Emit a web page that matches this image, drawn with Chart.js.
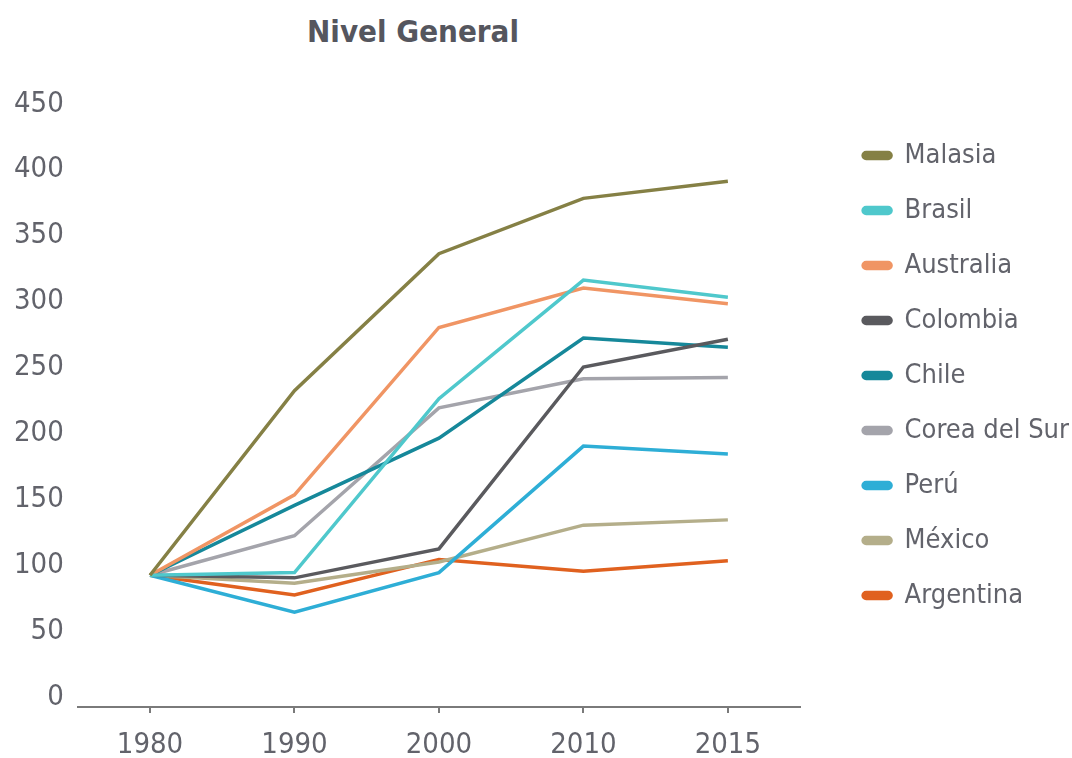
<!DOCTYPE html>
<html lang="es">
<head>
<meta charset="UTF-8">
<title>Nivel General</title>
<script src="https://cdn.jsdelivr.net/npm/chart.js"></script>
<style>
    * { margin: 0; padding: 0; box-sizing: border-box; }
    body { background: #fff; width: 1072px; height: 758px; overflow: hidden; }
    .wrap { position: relative; width: 1072px; height: 758px; }
    .title {
        position: absolute; top: 13px; left: 0; width: 826px;
        text-align: center;
        font-family: 'Liberation Sans Narrow', 'DejaVu Sans Condensed', 'Roboto', sans-serif;
        font-size: 31px; font-weight: bold; color: #55565e;
    }
    canvas { position: absolute; top: 0; left: 0; }
</style>
</head>
<body>
<div class="wrap">
    <div class="title">Nivel General</div>
    <canvas id="chart" width="1072" height="758"></canvas>
</div>
<script>
    const FONT = "'Liberation Sans Narrow', 'DejaVu Sans Condensed', Roboto, sans-serif";

    // Datos
    const years = ['1980', '1990', '2000', '2010', '2015'];
    const malasia   = [100, 240, 344, 386, 399];
    const brasil    = [100, 102, 234, 324, 311];
    const australia = [100, 161, 288, 318, 306];
    const colombia  = [100,  98, 120, 258, 279];
    const chile     = [100, 153, 204, 280, 273];
    const corea     = [100, 130, 227, 249, 250];
    const peru      = [100,  72, 102, 198, 192];
    const mexico    = [100,  94, 110, 138, 142];
    const argentina = [100,  85, 112, 103, 111];
    const yTicks = [0, 50, 100, 150, 200, 250, 300, 350, 400, 450];

    function serie(label, data, color) {
        return {
            label: label,
            data: data,
            borderColor: color,
            backgroundColor: color,
            borderWidth: 3.5,
            pointRadius: 0,
            tension: 0
        };
    }

    // espacio entre el eje x y la leyenda
    const GAP = 28, SHIFT = 35;
    const legendGap = {
        id: 'legendGap',
        afterInit(chart) {
            const legend = chart.legend;
            const fit = legend.fit;
            legend.fit = function () {
                fit.call(this);
                this.width += GAP;
            };
        },
        afterLayout(chart) {
            chart.legend.left += SHIFT;
        }
    };

    new Chart(document.getElementById('chart'), {
        type: 'line',
        data: {
            labels: years,
            datasets: [
                serie('Malasia', malasia, '#858045'),
                serie('Brasil', brasil, '#4fc8cc'),
                serie('Australia', australia, '#f09564'),
                serie('Colombia', colombia, '#5a5a5e'),
                serie('Chile', chile, '#16889a'),
                serie('Corea del Sur', corea, '#a4a4ab'),
                serie('Perú', peru, '#2eaed6'),
                serie('México', mexico, '#b4ae8a'),
                serie('Argentina', argentina, '#e0611f')
            ]
        },
        plugins: [legendGap],
        options: {
            responsive: false,
            animation: false,
            layout: { padding: { top: 114, left: 0, right: 0, bottom: -19 } },
            plugins: {
                title: { display: false },
                tooltip: { enabled: false },
                legend: {
                    position: 'right',
                    align: 'start',
                    labels: {
                        font: { family: FONT, size: 27 },
                        color: '#62636b',
                        boxWidth: 28,
                        boxHeight: 6,
                        useBorderRadius: true,
                        borderRadius: 3,
                        padding: 28
                    }
                }
            },
            scales: {
                x: {
                    offset: true,
                    grid: {
                        display: true,
                        drawOnChartArea: false,
                        tickLength: 6,
                        color: '#7a7a7a',
                        lineWidth: 2
                    },
                    border: { display: true, color: '#7a7a7a', width: 2 },
                    ticks: {
                        font: { family: FONT, size: 29, lineHeight: 1 },
                        color: '#62636b',
                        padding: 17.5
                    }
                },
                y: {
                    min: 0,
                    max: 450,
                    afterBuildTicks: function (axis) {
                        axis.ticks = yTicks.map(v => ({ value: v }));
                    },
                    grid: { display: false, drawTicks: false },
                    border: { display: false },
                    ticks: {
                        font: { family: FONT, size: 29 },
                        color: '#62636b',
                        padding: 14,
                        labelOffset: -10
                    }
                }
            }
        }
    });
</script>
</body>
</html>
